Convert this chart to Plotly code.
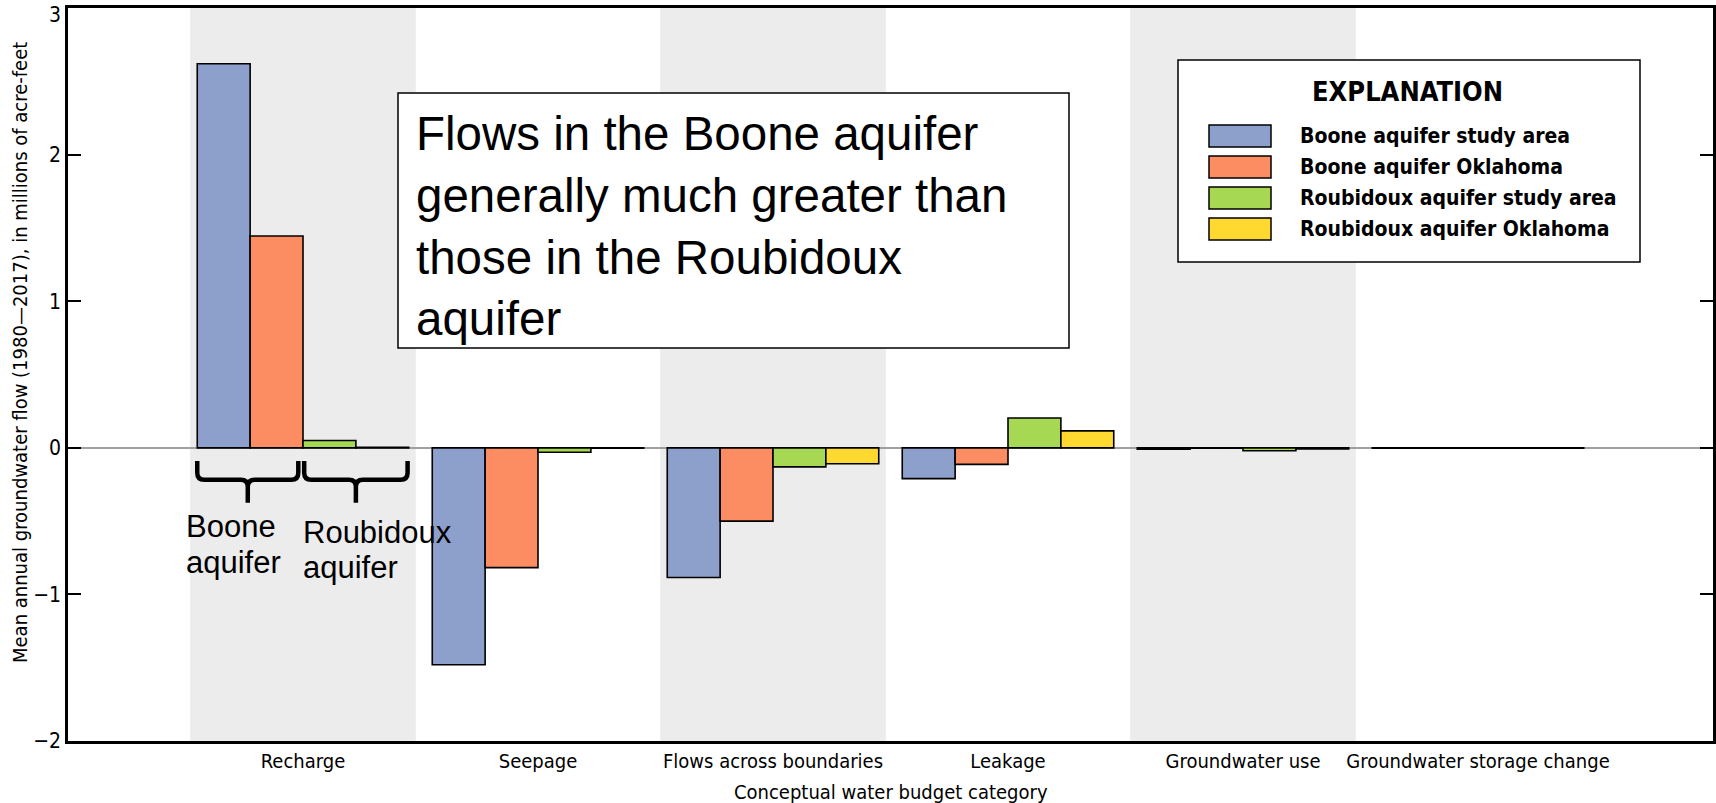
import plotly.graph_objects as go

categories = ["Recharge", "Seepage", "Flows across boundaries", "Leakage",
              "Groundwater use", "Groundwater storage change"]
series_names = ["Boone aquifer study area", "Boone aquifer Oklahoma",
                "Roubidoux aquifer study area", "Roubidoux aquifer Oklahoma"]
boone_study = [2.62, -1.48, -0.885, -0.21, -0.009, -0.003]
boone_ok = [1.445, -0.817, -0.50, -0.113, -0.002, -0.002]
roub_study = [0.05, -0.03, -0.13, 0.204, -0.02, -0.002]
roub_ok = [0.004, -0.003, -0.109, 0.116, -0.008, -0.003]
series_values = [boone_study, boone_ok, roub_study, roub_ok]
colors = ["#8da0cb", "#fc8d62", "#a6d854", "#ffd92f"]
y_ticks = [-2, -1, 0, 1, 2, 3]

note_lines = ["Flows in the Boone aquifer", "generally much greater than",
              "those in the Roubidoux", "aquifer"]
brace_labels = [["Boone", "aquifer"], ["Roubidoux", "aquifer"]]

COND = "DejaVu Sans Condensed, Liberation Sans Narrow, sans-serif"
ARIAL = "Liberation Sans, Arial, sans-serif"

W, H = 1716, 803
L, R, T, B = 68, 3, 8, 62


def px_x(px):
    return (px - L) / (W - L - R)


def px_y(py):
    return (H - B - py) / (H - T - B)


def tick_text(v):
    return str(v).replace("-", "\u2212")


fig = go.Figure()
x = list(range(len(categories)))
for name, vals, col in zip(series_names, series_values, colors):
    fig.add_trace(go.Bar(x=x, y=vals, name=name, marker_color=col,
                         marker_line=dict(color="black", width=1.6)))

shapes = []
# shaded bands behind every other category
for i in range(0, len(categories), 2):
    shapes.append(dict(type="rect", xref="x", yref="y", x0=i - 0.48, x1=i + 0.48,
                       y0=-2, y1=3, fillcolor="#ececec", line_width=0, layer="below"))

# braces under the Recharge group
yt, ym, ytip = -0.089, -0.218, -0.375
dx, dy = 0.03, 0.048
for x0, x1 in [(-0.45, -0.02), (0.005, 0.445)]:
    xc = (x0 + x1) / 2
    path = (f"M {x0},{yt} L {x0},{ym + dy} Q {x0},{ym} {x0 + dx},{ym} "
            f"L {xc - dx},{ym} Q {xc},{ym} {xc},{ym - dy} L {xc},{ytip} "
            f"M {xc},{ym - dy} Q {xc},{ym} {xc + dx},{ym} "
            f"L {x1 - dx},{ym} Q {x1},{ym} {x1},{ym + dy} L {x1},{yt}")
    shapes.append(dict(type="path", xref="x", yref="y", path=path,
                       line=dict(color="black", width=4.5)))

# note box
shapes.append(dict(type="rect", xref="paper", yref="paper",
                   x0=px_x(398), x1=px_x(1069), y0=px_y(348), y1=px_y(93),
                   fillcolor="white", line=dict(color="black", width=1.5)))
# legend box
shapes.append(dict(type="rect", xref="paper", yref="paper",
                   x0=px_x(1178), x1=px_x(1640), y0=px_y(262), y1=px_y(60),
                   fillcolor="white", line=dict(color="black", width=1.5)))
annotations = []
row_top = 125
for k, (name, col) in enumerate(zip(series_names, colors)):
    t = row_top + k * 31
    shapes.append(dict(type="rect", xref="paper", yref="paper",
                       x0=px_x(1209), x1=px_x(1271), y0=px_y(t + 22), y1=px_y(t),
                       fillcolor=col, line=dict(color="black", width=1.5)))
    annotations.append(dict(xref="paper", yref="paper", x=px_x(1298), y=px_y(t + 11),
                            xanchor="left", yanchor="middle", text=name, showarrow=False,
                            font=dict(family=COND, size=21, weight="bold", color="black")))
annotations.append(dict(xref="paper", yref="paper", x=px_x(1407), y=px_y(92),
                        xanchor="center", yanchor="middle", text="EXPLANATION",
                        showarrow=False,
                        font=dict(family=COND, size=27, weight="bold", color="black")))

annotations.append(dict(xref="paper", yref="paper", x=px_x(414), y=px_y(226),
                        xanchor="left", yanchor="middle", align="left",
                        text="<br>".join(note_lines), showarrow=False,
                        font=dict(family=ARIAL, size=47.5, color="black")))

# brace labels
for (lx, ly), lines in zip([(-0.505, [-0.538, -0.783]), (-0.008, [-0.579, -0.817])],
                           brace_labels):
    for yy, txt in zip(ly, lines):
        annotations.append(dict(xref="x", yref="y", x=lx, y=yy, xanchor="left",
                                yanchor="middle", text=txt, showarrow=False,
                                font=dict(family=ARIAL, size=31, color="black")))

# top tick label drawn as text, nudged down so it stays on the page
annotations.append(dict(xref="paper", yref="y", x=px_x(63), y=y_ticks[-1], yshift=7,
                        xanchor="right", yanchor="top", text=tick_text(y_ticks[-1]),
                        showarrow=False, font=dict(family=COND, size=21, color="black")))

annotations.append(dict(xref="paper", yref="paper", x=px_x(20), y=px_y(353),
                        xanchor="center", yanchor="middle", textangle=-90,
                        text="Mean annual groundwater flow (1980\u20142017), in millions of acre-feet",
                        showarrow=False, font=dict(family=COND, size=20, color="black")))
annotations.append(dict(xref="paper", yref="paper", x=0.5, y=px_y(792),
                        xanchor="center", yanchor="middle",
                        text="Conceptual water budget category",
                        showarrow=False, font=dict(family=COND, size=20, color="black")))

fig.update_layout(
    width=W, height=H, margin=dict(l=L, r=R, t=T, b=B),
    plot_bgcolor="white", paper_bgcolor="white",
    barmode="group", bargap=0.1, bargroupgap=0, showlegend=False,
    font=dict(family=COND, color="black", size=20),
    shapes=shapes, annotations=annotations,
)
fig.update_xaxes(range=[-1, 6], tickvals=x, ticktext=categories, ticks="",
                 showline=True, linecolor="black", linewidth=2.5, mirror=True,
                 showgrid=False, zeroline=False, tickfont=dict(size=20),
                 automargin=False)
fig.update_yaxes(range=[-2, 3.0005], tickvals=y_ticks,
                 ticktext=[tick_text(v) for v in y_ticks[:-1]] + [""],
                 ticks="inside", ticklen=13,
                 tickwidth=2, tickcolor="black", showline=True, linecolor="black",
                 linewidth=2.5, mirror="ticks", showgrid=False, zeroline=True,
                 zerolinecolor="#a0a0a0", zerolinewidth=1.5, tickfont=dict(size=21),
                 automargin=False)

fig.write_html("out.html", config={"displayModeBar": False},
               post_script="document.body.style.margin='0';")
